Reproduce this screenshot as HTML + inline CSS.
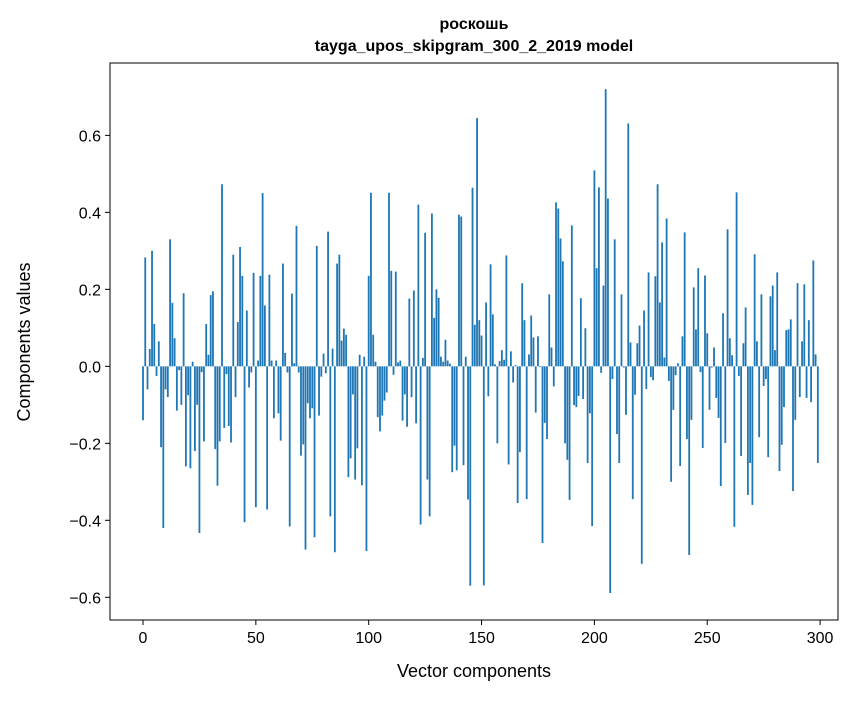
<!DOCTYPE html>
<html><head><meta charset="utf-8"><style>
body{margin:0;background:#fff;}
svg text{font-family:"Liberation Sans","DejaVu Sans",sans-serif;fill:#000;}
</style></head><body>
<svg id="chart" width="867" height="696" viewBox="0 0 867 696" xmlns="http://www.w3.org/2000/svg">
<rect x="0" y="0" width="867" height="696" fill="#fff"/>
<text x="474" y="29" font-size="16" font-weight="bold" text-anchor="middle">роскошь</text>
<text x="474" y="51" font-size="16" font-weight="bold" text-anchor="middle">tayga_upos_skipgram_300_2_2019 model</text>
<g id="bars"></g>
<g id="xticks"></g>
<g id="yticks"></g>
<rect x="110" y="63" width="728" height="557" fill="none" stroke="#000" stroke-width="1"/>
<text x="474" y="677" font-size="18" text-anchor="middle">Vector components</text>
<text transform="translate(30,342) rotate(-90)" font-size="18" text-anchor="middle">Components values</text>
</svg>
<script>
const values = [
-0.14,0.283,-0.06,0.045,0.30,0.11,-0.025,0.065,-0.21,-0.42,
-0.06,-0.08,0.33,0.165,0.073,-0.115,-0.01,-0.1,0.19,-0.26,
-0.075,-0.265,0.012,-0.22,-0.1,-0.433,-0.015,-0.195,0.11,0.03,
0.185,0.195,-0.215,-0.31,-0.195,0.473,-0.16,-0.02,-0.155,-0.198,
0.29,-0.08,0.115,0.31,0.235,-0.405,0.145,-0.055,-0.016,0.243,
-0.366,0.015,0.235,0.45,0.158,-0.372,0.238,0.015,-0.135,0.015,
-0.122,-0.193,0.267,0.035,-0.016,-0.416,0.189,0.008,0.365,-0.016,
-0.232,-0.203,-0.476,-0.096,-0.135,-0.109,-0.444,0.313,-0.128,-0.027,
0.033,-0.018,0.35,-0.39,0.046,-0.483,0.267,0.29,0.067,0.098,
0.082,-0.288,-0.239,-0.073,-0.294,-0.213,0.03,-0.309,0.025,-0.48,
0.235,0.451,0.082,0.012,-0.132,-0.169,-0.128,-0.089,-0.068,0.451,
0.248,-0.022,0.246,0.01,0.015,-0.141,-0.073,-0.157,0.176,-0.08,
0.197,-0.148,0.42,-0.411,0.022,0.347,-0.294,-0.39,0.397,0.126,
0.2,0.178,0.025,0.012,0.069,0.015,0.007,-0.275,-0.206,-0.27,
0.394,0.389,-0.257,0.025,-0.346,-0.57,0.464,0.108,0.645,0.12,
0.08,-0.569,0.166,-0.078,0.265,0.135,0.005,-0.2,0.014,0.042,
0.017,0.288,-0.255,0.039,-0.042,0.003,-0.355,-0.223,0.216,0.12,
-0.345,0.031,0.132,0.075,-0.12,0.078,-0.002,-0.459,-0.147,-0.189,
0.187,0.049,-0.052,0.426,0.41,0.332,0.273,-0.2,-0.243,-0.347,
0.366,-0.101,-0.106,-0.077,0.177,-0.085,0.099,-0.251,-0.122,-0.415,
0.509,0.255,0.465,-0.017,0.21,0.72,0.436,-0.589,-0.033,0.33,
-0.176,-0.251,0.187,-0.003,-0.126,0.631,0.062,-0.345,-0.074,0.06,
0.106,-0.513,0.145,-0.059,0.244,-0.028,-0.036,0.234,0.473,0.166,
0.322,0.023,0.384,-0.038,-0.3,-0.113,-0.023,0.008,-0.259,0.078,
0.348,-0.189,-0.49,-0.139,0.205,0.096,0.255,-0.015,-0.212,0.236,
0.086,-0.113,-0.003,0.049,-0.082,-0.134,-0.311,0.138,-0.199,0.356,
0.073,0.029,-0.417,0.452,-0.025,-0.233,0.06,0.153,-0.334,-0.251,
-0.36,0.291,0.065,-0.184,0.187,-0.051,-0.033,-0.236,0.182,0.21,
0.042,0.244,-0.272,-0.204,-0.106,0.094,0.096,0.122,-0.324,-0.139,
0.216,-0.08,0.065,0.213,-0.082,0.12,-0.093,0.275,0.031,-0.251
];
const xTicks = [0,50,100,150,200,250,300];
const yTicks = [-0.6,-0.4,-0.2,0.0,0.2,0.4,0.6];

const NS = "http://www.w3.org/2000/svg";
const X0 = 110, X1 = 838, Y0 = 63, Y1 = 620;
const xMin = -14.62, xMax = 307.93;
const yMin = -0.659, yMax = 0.788;
function xs(v){ return X0 + (v - xMin) / (xMax - xMin) * (X1 - X0); }
function ys(v){ return Y1 - (v - yMin) / (yMax - yMin) * (Y1 - Y0); }

const bars = document.getElementById('bars');
const bw = (xs(0.8) - xs(0));
values.forEach((v, i) => {
  const r = document.createElementNS(NS, 'rect');
  
  
  const top = ys(Math.max(v, 0)), bot = ys(Math.min(v, 0));
  r.setAttribute('x', xs(i) - bw / 2);
  r.setAttribute('y', top);
  r.setAttribute('width', bw);
  r.setAttribute('height', Math.max(bot - top, 0.3));
  r.setAttribute('fill', '#1f77b4');
  bars.appendChild(r);
});

const xg = document.getElementById('xticks');
xTicks.forEach(t => {
  const x = xs(t);
  const l = document.createElementNS(NS, 'line');
  
  
  l.setAttribute('x1', x); l.setAttribute('x2', x);
  l.setAttribute('y1', Y1); l.setAttribute('y2', Y1 + 5);
  l.setAttribute('stroke', '#000');
  xg.appendChild(l);
  const tx = document.createElementNS(NS, 'text');
  
  
  tx.setAttribute('x', x); tx.setAttribute('y', Y1 + 23);
  tx.setAttribute('font-size', '16');
  tx.setAttribute('text-anchor', 'middle');
  tx.textContent = String(t);
  xg.appendChild(tx);
});

const yg = document.getElementById('yticks');
yTicks.forEach(t => {
  const y = ys(t);
  const l = document.createElementNS(NS, 'line');
  
  
  l.setAttribute('x1', X0 - 5); l.setAttribute('x2', X0);
  l.setAttribute('y1', y); l.setAttribute('y2', y);
  l.setAttribute('stroke', '#000');
  yg.appendChild(l);
  const tx = document.createElementNS(NS, 'text');
  
  
  tx.setAttribute('x', X0 - 9); tx.setAttribute('y', y + 6);
  tx.setAttribute('font-size', '16');
  tx.setAttribute('text-anchor', 'end');
  tx.textContent = (t < 0 ? '\u2212' : '') + Math.abs(t).toFixed(1);
  yg.appendChild(tx);
});
</script>
</body></html>
